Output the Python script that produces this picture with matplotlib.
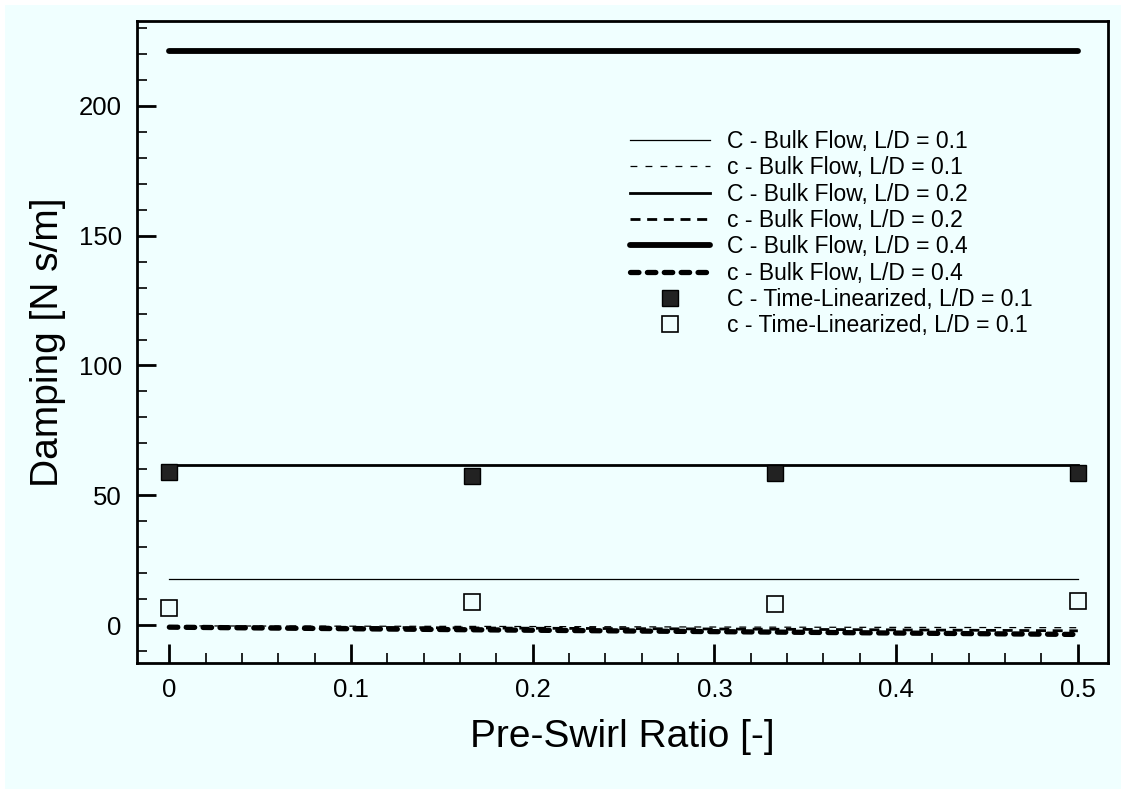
import matplotlib
matplotlib.use("Agg")
import matplotlib.pyplot as plt
from matplotlib.ticker import MultipleLocator
from matplotlib.patches import Rectangle

plt.rcParams['font.family'] = ['Liberation Sans', 'DejaVu Sans']

# Pre-swirl sweep points
swirl = [0.0, 1/6, 1/3, 0.5]

# Bulk-flow damping coefficients [N s/m]
C_bulk_01 = [17.7, 17.7, 17.7, 17.7]
c_bulk_01 = [-0.3, -0.5, -0.8, -1.0]
C_bulk_02 = [61.7, 61.7, 61.7, 61.7]
c_bulk_02 = [-0.5, -1.1, -1.6, -2.2]
C_bulk_04 = [221.0, 221.0, 221.0, 221.0]
c_bulk_04 = [-0.8, -1.8, -2.7, -3.6]

# Time-linearized results, L/D = 0.1
C_tl_01 = [59.1, 57.6, 58.6, 58.4]
c_tl_01 = [6.5, 9.0, 8.2, 9.2]

xticks = [0, 0.1, 0.2, 0.3, 0.4, 0.5]
xticklabels = ['0', '0.1', '0.2', '0.3', '0.4', '0.5']
yticks = [0, 50, 100, 150, 200]

bg = '#F0FFFF'
fig = plt.figure(figsize=(11.21, 7.89), dpi=100, facecolor=bg)
# thin white margin along the top and left edges
fig.patches.append(Rectangle((0, 1 - 5/789), 1, 5/789, transform=fig.transFigure,
                             facecolor='white', edgecolor='none', zorder=0))
fig.patches.append(Rectangle((0, 0), 5/1121, 1, transform=fig.transFigure,
                             facecolor='white', edgecolor='none', zorder=0))

ax = fig.add_axes([137/1121, 1 - 663/789, (1108 - 137)/1121, (663 - 21)/789])
ax.set_facecolor(bg)

ax.plot(swirl, C_bulk_01, color='black', lw=0.9, label='C - Bulk Flow, L/D = 0.1')
ax.plot(swirl, c_bulk_01, color='black', lw=0.9, dashes=(5.5, 6.5),
        label='c - Bulk Flow, L/D = 0.1')
ax.plot(swirl, C_bulk_02, color='black', lw=2.0, label='C - Bulk Flow, L/D = 0.2')
ax.plot(swirl, c_bulk_02, color='black', lw=2.0, dashes=(3.6, 2.4),
        label='c - Bulk Flow, L/D = 0.2')
ax.plot(swirl, C_bulk_04, color='black', lw=4.2, solid_capstyle='round',
        label='C - Bulk Flow, L/D = 0.4')
ax.plot(swirl, c_bulk_04, color='black', lw=3.8, dashes=(1.6, 1.6),
        dash_capstyle='round', label='c - Bulk Flow, L/D = 0.4')
ax.plot(swirl, C_tl_01, ls='none', marker='s', ms=12, mfc='#222222', mec='black',
        mew=1.0, label='C - Time-Linearized, L/D = 0.1')
ax.plot(swirl, c_tl_01, ls='none', marker='s', ms=12, mfc=bg, mec='black',
        mew=1.2, label='c - Time-Linearized, L/D = 0.1')

ax.set_xlim(-0.0178, 0.5166)
ax.set_ylim(-14.6, 232.7)
ax.set_xticks(xticks)
ax.set_xticklabels(xticklabels)
ax.set_yticks(yticks)
ax.xaxis.set_minor_locator(MultipleLocator(0.02))
ax.yaxis.set_minor_locator(MultipleLocator(10))

ax.tick_params(which='both', direction='in', top=False, right=False, labelsize=18.5)
ax.tick_params(which='major', length=14, width=2.0, pad=11)
ax.tick_params(which='minor', length=7, width=1.2)
for s in ax.spines.values():
    s.set_linewidth(2.0)

ax.set_xlabel('Pre-Swirl Ratio [-]', fontsize=28, labelpad=12)
ax.set_ylabel('Damping [N s/m]', fontsize=28, labelpad=9)

ax.legend(loc='upper left', bbox_to_anchor=(0.508, 0.830), frameon=False,
          fontsize=16.5, handlelength=3.5, handletextpad=0.7, labelspacing=0.145,
          borderaxespad=0, borderpad=0)

fig.savefig('out.png', dpi=100, facecolor=fig.get_facecolor())
